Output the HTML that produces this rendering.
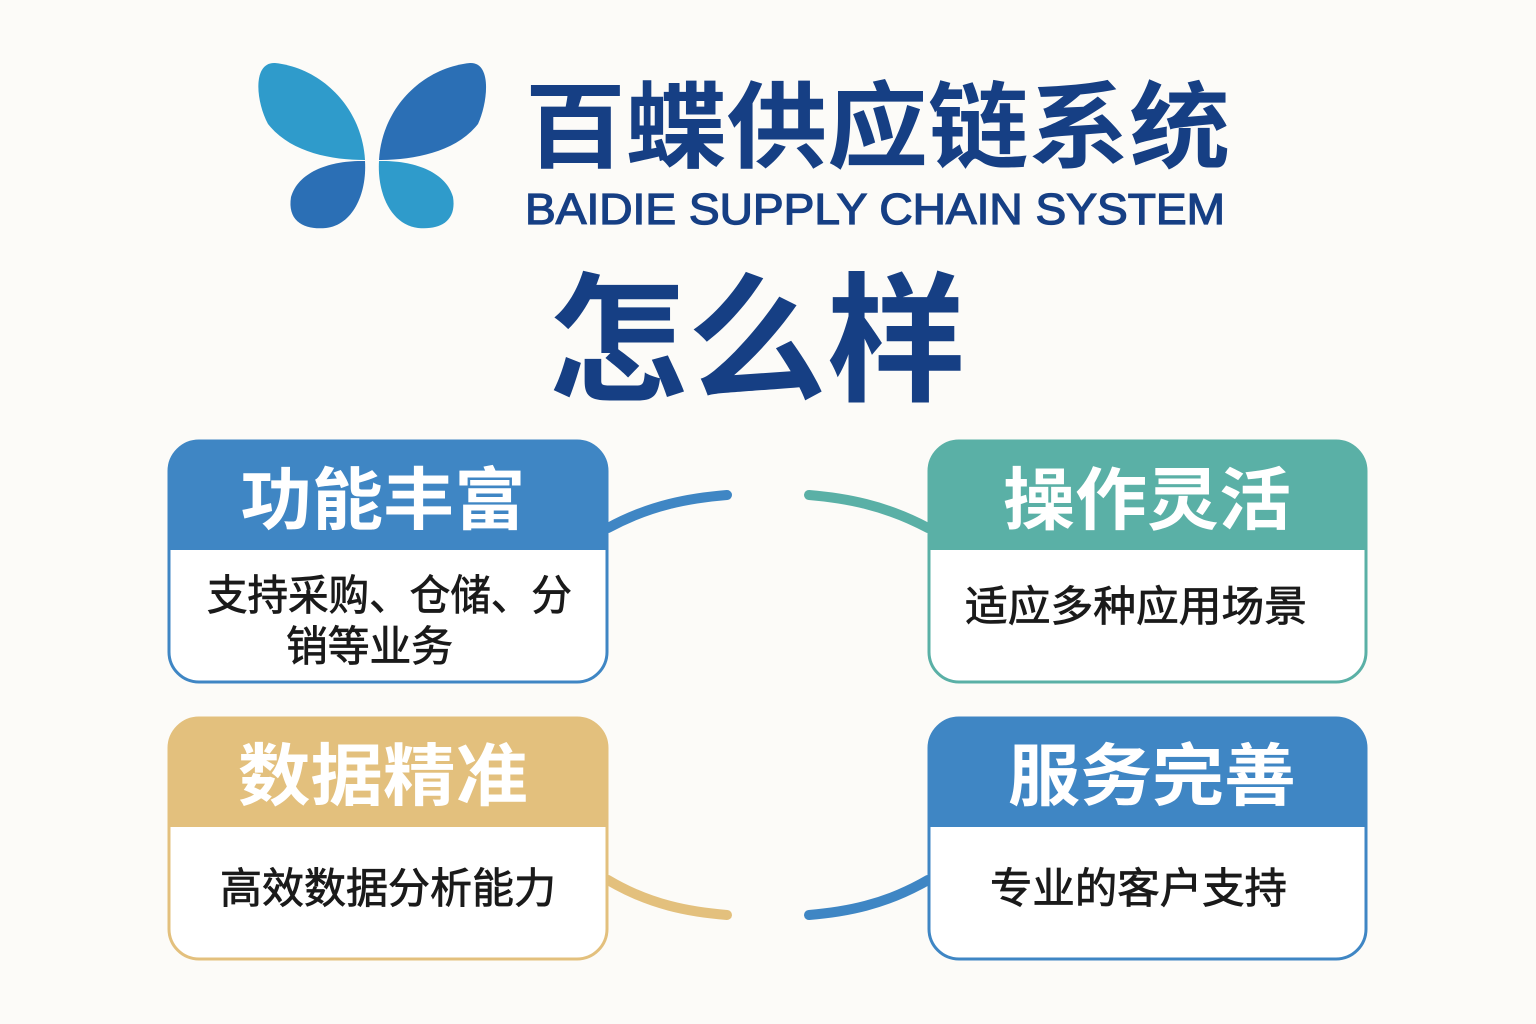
<!DOCTYPE html>
<html><head><meta charset="utf-8"><style>
html,body{margin:0;padding:0;background:#fcfbf8;}
svg{display:block}
text{font-family:"Liberation Sans","Noto Sans CJK SC",sans-serif;}
.b{font-size:42px;fill:#1a1a1a;stroke:#1a1a1a;stroke-width:0.8px;}
</style></head><body>
<svg width="1536" height="1024" viewBox="0 0 1536 1024" xmlns="http://www.w3.org/2000/svg">
<rect width="1536" height="1024" fill="#fcfbf8"/>
<!-- butterfly -->
<path d="M365,160 C362,108 322,68 275,63 C252,62 256,102 268,124 C290,152 330,160 365,160 Z" fill="#2f9bcb"/>
<path d="M379,160 C382,108 422,68 470,63 C492,62 488,102 478,124 C456,152 414,160 379,160 Z" fill="#2b6fb5"/>
<path d="M365,161 C330,160 298,172 291,197 C287,222 305,230 326,228 C352,225 367,195 365,161 Z" fill="#2b6fb5"/>
<path d="M379,161 C414,160 446,172 453,197 C457,222 439,230 418,228 C392,225 377,195 379,161 Z" fill="#2f9bcb"/>
<text x="525" y="160" font-size="94" font-weight="bold" fill="#163f84" textLength="705" lengthAdjust="spacingAndGlyphs">百蝶供应链系统</text>
<text x="525" y="224" font-size="44" fill="#163f84" stroke="#163f84" stroke-width="1.3" textLength="700" lengthAdjust="spacingAndGlyphs">BAIDIE SUPPLY CHAIN SYSTEM</text>
<text x="548" y="390" font-size="140" font-weight="bold" fill="#163f84" textLength="418" lengthAdjust="spacingAndGlyphs">怎么样</text>
<!-- connectors -->
<g fill="none" stroke-width="10" stroke-linecap="round">
<path d="M608,528 C650,505 690,498 727,495" stroke="#3f86c4"/>
<path d="M928,528 C885,505 845,498 809,495" stroke="#5ab0a6"/>
<path d="M608,880 C650,905 690,912 727,915" stroke="#e3c07d"/>
<path d="M928,880 C885,905 845,912 809,915" stroke="#3f86c4"/>
</g>
<!-- boxes -->
<g>
<rect x="169" y="441" width="438" height="241" rx="30" fill="#fff" stroke="#3f86c4" stroke-width="3"/>
<path d="M169,550 V471 A30,30 0 0 1 199,441 H577 A30,30 0 0 1 607,471 V550 Z" fill="#3f86c4"/>
<text x="383" y="524" font-size="68" font-weight="bold" fill="#fff" text-anchor="middle" textLength="285" lengthAdjust="spacingAndGlyphs">功能丰富</text>
<text x="207" y="610" class="b" textLength="365" lengthAdjust="spacingAndGlyphs">支持采购、仓储、分</text>
<text x="286" y="661" class="b" textLength="167" lengthAdjust="spacingAndGlyphs">销等业务</text>

<rect x="929" y="441" width="437" height="241" rx="30" fill="#fff" stroke="#5ab0a6" stroke-width="3"/>
<path d="M929,550 V471 A30,30 0 0 1 959,441 H1336 A30,30 0 0 1 1366,471 V550 Z" fill="#5ab0a6"/>
<text x="1147" y="524" font-size="68" font-weight="bold" fill="#fff" text-anchor="middle" textLength="288" lengthAdjust="spacingAndGlyphs">操作灵活</text>
<text x="965" y="621" class="b" textLength="342" lengthAdjust="spacingAndGlyphs">适应多种应用场景</text>

<rect x="169" y="718" width="438" height="241" rx="30" fill="#fff" stroke="#e3c07d" stroke-width="3"/>
<path d="M169,827 V748 A30,30 0 0 1 199,718 H577 A30,30 0 0 1 607,748 V827 Z" fill="#e3c07d"/>
<text x="383" y="800" font-size="68" font-weight="bold" fill="#fff" text-anchor="middle" textLength="290" lengthAdjust="spacingAndGlyphs">数据精准</text>
<text x="220" y="903" class="b" textLength="336" lengthAdjust="spacingAndGlyphs">高效数据分析能力</text>

<rect x="929" y="718" width="437" height="241" rx="30" fill="#fff" stroke="#3f86c4" stroke-width="3"/>
<path d="M929,827 V748 A30,30 0 0 1 959,718 H1336 A30,30 0 0 1 1366,748 V827 Z" fill="#3f86c4"/>
<text x="1152" y="800" font-size="68" font-weight="bold" fill="#fff" text-anchor="middle" textLength="288" lengthAdjust="spacingAndGlyphs">服务完善</text>
<text x="990" y="903" class="b" textLength="297" lengthAdjust="spacingAndGlyphs">专业的客户支持</text>
</g>
</svg>
</body></html>
